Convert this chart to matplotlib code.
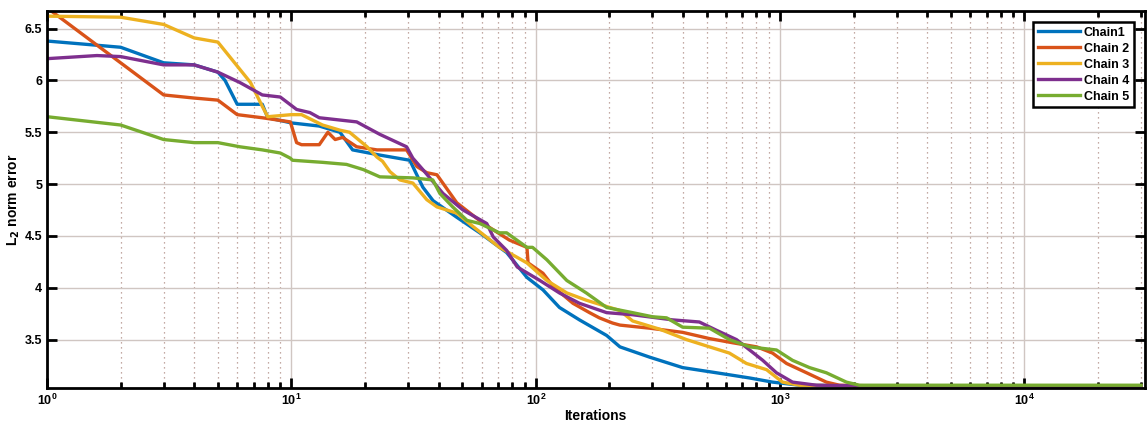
import matplotlib
matplotlib.use("Agg")
import matplotlib.pyplot as plt
from matplotlib.ticker import LogLocator, NullFormatter

plt.rcParams['font.family'] = ['Liberation Sans', 'DejaVu Sans']

# === data (iterations, L2 norm error) ===
chain1_it = [1, 2, 3, 4, 5, 5.35, 6, 7.6, 8, 10, 13, 15.8, 17.8, 23, 30.5, 34.5, 38, 47.5, 59, 76,
             92, 107, 125, 151, 195, 221, 293, 399, 549, 750, 931, 1200, 3000, 30000]
chain1_val = [6.38, 6.32, 6.17, 6.15, 6.08, 6.0, 5.77, 5.77, 5.64, 5.59, 5.56, 5.50, 5.33, 5.28, 5.23, 4.97, 4.84, 4.68, 4.53, 4.34,
              4.10, 3.98, 3.81, 3.69, 3.54, 3.43, 3.33, 3.23, 3.18, 3.13, 3.09, 3.06, 3.05, 3.05]

chain2_it = [1, 2, 3, 4, 5, 6, 7.6, 9.9, 10.5, 11, 13, 14.1, 15.1, 16.2, 18.5, 22.4, 29.6, 32.6, 35.8, 39.4,
             47.5, 61, 78, 92, 93, 107, 118, 142, 166, 182, 206, 221, 293, 399, 514, 638, 802, 931, 1062,
             1283, 1546, 1748, 3000, 30000]
chain2_val = [6.7, 6.17, 5.86, 5.83, 5.81, 5.67, 5.64, 5.60, 5.40, 5.38, 5.38, 5.50, 5.43, 5.45, 5.36, 5.33, 5.33, 5.17, 5.11, 5.09,
              4.82, 4.62, 4.46, 4.39, 4.24, 4.14, 4.01, 3.85, 3.76, 3.71, 3.66, 3.64, 3.61, 3.57, 3.51, 3.47, 3.43, 3.37, 3.27,
              3.18, 3.09, 3.06, 3.05, 3.05]

chain3_it = [1, 2, 3, 4, 5, 6.8, 7.6, 8, 10, 11, 13.4, 15.8, 17.3, 20.4, 22.4, 23.6, 25.3, 27.8, 31.4, 35.8,
             39.4, 47.5, 55.4, 71, 92, 111, 134, 161, 221, 249, 322, 414, 514, 620, 728, 880, 1023, 1200,
             3000, 30000]
chain3_val = [6.62, 6.61, 6.54, 6.41, 6.37, 5.98, 5.75, 5.65, 5.67, 5.67, 5.57, 5.52, 5.50, 5.36, 5.26, 5.22, 5.12, 5.04, 5.01, 4.85,
              4.78, 4.72, 4.59, 4.39, 4.24, 4.07, 3.95, 3.88, 3.78, 3.68, 3.60, 3.50, 3.43, 3.37, 3.27, 3.21, 3.09, 3.06,
              3.05, 3.05]

chain4_it = [1, 1.6, 2, 3, 4, 5, 6.15, 7.6, 9, 10.5, 11.9, 13, 18.5, 23, 29.6, 31.4, 34.5, 41.7, 50.4, 63,
             67, 76, 84, 104, 125, 151, 195, 249, 364, 467, 549, 663, 750, 849, 966, 1124, 1408, 3000, 30000]
chain4_val = [6.21, 6.24, 6.23, 6.15, 6.15, 6.08, 5.98, 5.86, 5.84, 5.72, 5.69, 5.64, 5.60, 5.48, 5.36, 5.25, 5.14, 4.91, 4.75, 4.62,
              4.49, 4.36, 4.20, 4.07, 3.95, 3.85, 3.76, 3.74, 3.69, 3.67, 3.59, 3.50, 3.40, 3.30, 3.18, 3.09, 3.06, 3.05, 3.05]

chain5_it = [1, 2, 3, 4, 5, 6.15, 7.6, 9, 9.9, 10.1, 13.4, 16.8, 19.7, 23, 31.4, 37.9, 40.5, 45.7, 52.3, 59,
             71, 76, 92, 97, 111, 134, 161, 195, 249, 301, 343, 399, 514, 620, 750, 966, 1124, 1319, 1546,
             1867, 2111, 3000, 30000]
chain5_val = [5.65, 5.57, 5.43, 5.40, 5.40, 5.36, 5.33, 5.30, 5.25, 5.23, 5.21, 5.19, 5.14, 5.07, 5.06, 5.04, 4.91, 4.78, 4.65, 4.62,
              4.53, 4.53, 4.39, 4.39, 4.27, 4.07, 3.95, 3.81, 3.76, 3.72, 3.71, 3.62, 3.61, 3.50, 3.43, 3.40, 3.30, 3.23, 3.18,
              3.09, 3.06, 3.06, 3.06]

labels = ["Chain1", "Chain 2", "Chain 3", "Chain 4", "Chain 5"]
colors = ["#0072BD", "#D95319", "#EDB120", "#7E2F8E", "#77AC30"]
y_ticks = [3.5, 4, 4.5, 5, 5.5, 6, 6.5]

# === plot ===
fig = plt.figure(figsize=(11.48, 4.22), dpi=100)
ax = fig.add_axes([0.041, 0.081, 0.956, 0.893])

series = [(chain1_it, chain1_val), (chain2_it, chain2_val), (chain3_it, chain3_val),
          (chain4_it, chain4_val), (chain5_it, chain5_val)]
for (xs, ys), lab, col in zip(series, labels, colors):
    ax.plot(xs, ys, color=col, lw=2.4, label=lab)

ax.set_xscale("log")
ax.set_xlim(1, 3.1e4)
ax.set_ylim(3.035, 6.67)
ax.set_yticks(y_ticks)
ax.set_yticklabels([f"{t:g}" for t in y_ticks])
ax.xaxis.set_minor_locator(LogLocator(base=10, subs=range(2, 10), numticks=20))
ax.xaxis.set_minor_formatter(NullFormatter())

ax.grid(which="major", color="#d0c6c2", lw=1.0, ls="-")
ax.grid(which="minor", axis="x", color="#b08f86", lw=0.9, ls=(0, (1, 3)))
ax.set_axisbelow(True)

for s in ax.spines.values():
    s.set_linewidth(2.0)
    s.set_color("black")
ax.tick_params(which="both", direction="in", top=True, right=True, width=2.0)
ax.tick_params(which="major", length=7, labelsize=9)
ax.tick_params(which="minor", length=4)
for t in ax.get_xticklabels() + ax.get_yticklabels():
    t.set_fontweight("bold")

ax.set_xlabel("Iterations", fontsize=10, fontweight="bold", labelpad=1)
ax.set_ylabel("L$_\\mathbf{2}$ norm error", fontsize=10, fontweight="bold", labelpad=2)

leg = ax.legend(loc="upper right", bbox_to_anchor=(0.99, 0.97), fancybox=False,
                framealpha=1, edgecolor="black", borderaxespad=0,
                prop={"weight": "bold", "size": 9}, handlelength=3.4,
                handletextpad=0.3, labelspacing=0.32, borderpad=0.35)
leg.get_frame().set_linewidth(1.8)

fig.savefig("out.png", dpi=100)
